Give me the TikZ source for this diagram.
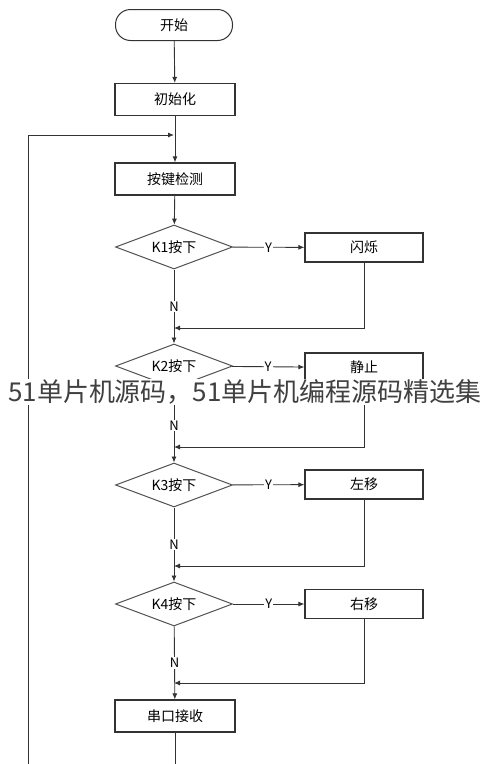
\documentclass[tikz,border=0pt]{standalone}
\usepackage{fontspec}
\setmainfont{Noto Sans CJK SC}
\usepackage{tikz}
\usetikzlibrary{shapes.geometric}
\usetikzlibrary{arrows.meta}
\usetikzlibrary{positioning}
\definecolor{lineg}{rgb}{0.2,0.2,0.2}
\definecolor{markg}{rgb}{0.25,0.25,0.25}
\tikzset{%
  startbox/.style={rectangle,rounded corners=15pt,draw=lineg,line width=1pt,minimum width=117pt,minimum height=31pt,inner sep=0pt,font=\fontsize{14}{14}\selectfont}
}
\tikzset{%
  procbox/.style={rectangle,draw=lineg,line width=1.2pt,minimum width=120pt,minimum height=32pt,inner sep=0pt,font=\fontsize{14}{14}\selectfont},
  sidebox/.style={procbox,minimum width=118pt,minimum height=29pt}
}
\tikzset{%
  testbox/.style={diamond,aspect=2.6,draw=lineg!85,line width=1pt,minimum width=117pt,minimum height=44pt,inner sep=0pt,font=\fontsize{14}{14}\selectfont}
}
\tikzset{%
  flow/.style={draw=lineg,line width=0.9pt,-{Latex[length=6pt,width=5pt]}},
  yn/.style={fill=white,inner sep=1pt,font=\fontsize{13}{13}\selectfont}
}
\newcommand\markcol{markg}

\begin{document}
\begin{tikzpicture}[x=1pt,y=-1pt]
        \clip (0,0) rectangle (490,764);
        \fill[white] (0,0) rectangle (490,764);

        \node[startbox](start) at (174,25){开始};
        \node[procbox](init) at (175,99.5){初始化};
        \coordinate (loopin) at (174,135);
        \node[procbox](detect) at (175,179){按键检测};

        \node[testbox](k1) at (174,247){K1按下};
        \node[sidebox](blink) at (364,247.5){闪烁};
        \coordinate (back1) at (174,328);

        \node[testbox](k2) at (174,366){K2按下};
        \node[sidebox](stop) at (364,367.5){静止};
        \coordinate (back2) at (174,447);

        \node[testbox](k3) at (174,485){K3按下};
        \node[sidebox](left) at (364,484.5){左移};
        \coordinate (back3) at (174,566);

        \node[testbox](k4) at (174,604){K4按下};
        \node[sidebox](right) at (364,604){右移};
        \coordinate (back4) at (174,683);

        \node[procbox](serial) at (175,716){串口接收};
        \coordinate (loopout) at (28,790);

        \draw[flow] (start) -- (init);
        \draw[flow] (init) -- (detect);
        \draw[flow] (detect) -- (k1);

        \draw[flow] (k1) -- node[yn]{Y} (blink);
        \draw[flow] (k1) -- node[yn]{N} (k2);
        \draw[flow] (blink.south) |- (back1);

        \draw[flow] (k2) -- node[yn]{Y} (stop);
        \draw[flow] (k2) -- node[yn]{N} (k3);
        \draw[flow] (stop.south) |- (back2);

        \draw[flow] (k3) -- node[yn]{Y} (left);
        \draw[flow] (k3) -- node[yn]{N} (k4);
        \draw[flow] (left.south) |- (back3);

        \draw[flow] (k4) -- node[yn]{Y} (right);
        \draw[flow] (k4) -- node[yn]{N} (serial);
        \draw[flow] (right.south) |- (back4);

        \draw[flow] (serial.south) |- (loopout) |- (loopin);

        \node[fill=white,inner sep=1pt,text=\markcol,font=\fontsize{26}{26}\selectfont](mark) at (245,392){51单片机源码，51单片机编程源码精选集};
      \end{tikzpicture}
\end{document}
